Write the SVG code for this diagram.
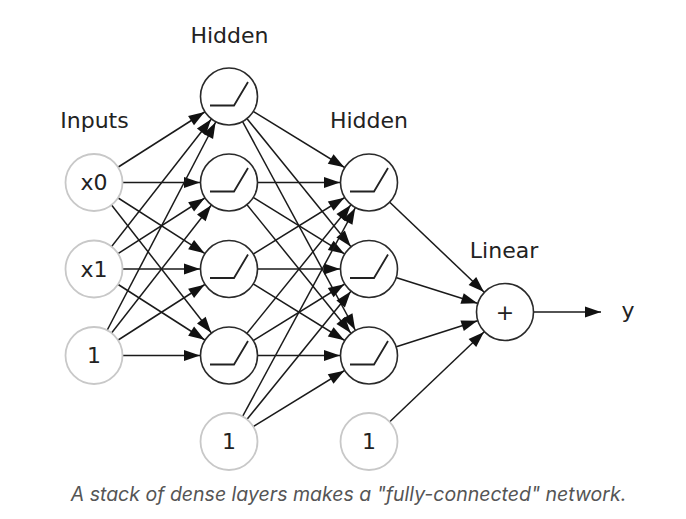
<svg xmlns="http://www.w3.org/2000/svg" width="686" height="519" viewBox="0 0 686 519">
<style>
.lbl{font-family:"DejaVu Sans",sans-serif;font-size:22px;fill:#222;text-anchor:middle}
.in{fill:#fff;stroke:#c8c8c8;stroke-width:1.8}
.hn{fill:#fff;stroke:#2a2a2a;stroke-width:1.6}
.relu{fill:none;stroke:#222;stroke-width:1.8}
.e{stroke:#1a1a1a;stroke-width:1.5;fill:none;marker-end:url(#a)}
.cap{font-family:Inter,"Liberation Sans",sans-serif;font-style:italic;font-size:19.5px;fill:#555;text-anchor:middle}
</style>
<defs>
<marker id="a" markerUnits="userSpaceOnUse" markerWidth="1" markerHeight="1" refX="0" refY="0" orient="auto" overflow="visible">
<path d="M-29,0 L-45,-5.5 L-45,5.5 z" fill="#111"/>
</marker>
<marker id="t" markerUnits="userSpaceOnUse" markerWidth="1" markerHeight="1" refX="0" refY="0" orient="auto" overflow="visible">
<path d="M0,0 L-16,-5.5 L-16,5.5 z" fill="#111"/>
</marker>
<path id="r" d="M-19,9 H5 L19,-14.5"/>
</defs>
<rect width="686" height="519" fill="#fff"/>
<g id="connectors">
<line class="e" x1="94" y1="182.5" x2="229" y2="96.5"/>
<line class="e" x1="94" y1="182.5" x2="229" y2="182.5"/>
<line class="e" x1="94" y1="182.5" x2="229" y2="269"/>
<line class="e" x1="94" y1="182.5" x2="229" y2="355.5"/>
<line class="e" x1="94" y1="269" x2="229" y2="96.5"/>
<line class="e" x1="94" y1="269" x2="229" y2="182.5"/>
<line class="e" x1="94" y1="269" x2="229" y2="269"/>
<line class="e" x1="94" y1="269" x2="229" y2="355.5"/>
<line class="e" x1="94" y1="355.5" x2="229" y2="96.5"/>
<line class="e" x1="94" y1="355.5" x2="229" y2="182.5"/>
<line class="e" x1="94" y1="355.5" x2="229" y2="269"/>
<line class="e" x1="94" y1="355.5" x2="229" y2="355.5"/>
<line class="e" x1="229" y1="96.5" x2="369" y2="182.5"/>
<line class="e" x1="229" y1="96.5" x2="369" y2="269"/>
<line class="e" x1="229" y1="96.5" x2="369" y2="355.5"/>
<line class="e" x1="229" y1="182.5" x2="369" y2="182.5"/>
<line class="e" x1="229" y1="182.5" x2="369" y2="269"/>
<line class="e" x1="229" y1="182.5" x2="369" y2="355.5"/>
<line class="e" x1="229" y1="269" x2="369" y2="182.5"/>
<line class="e" x1="229" y1="269" x2="369" y2="269"/>
<line class="e" x1="229" y1="269" x2="369" y2="355.5"/>
<line class="e" x1="229" y1="355.5" x2="369" y2="182.5"/>
<line class="e" x1="229" y1="355.5" x2="369" y2="269"/>
<line class="e" x1="229" y1="355.5" x2="369" y2="355.5"/>
<line class="e" x1="229" y1="441.5" x2="369" y2="182.5"/>
<line class="e" x1="229" y1="441.5" x2="369" y2="269"/>
<line class="e" x1="229" y1="441.5" x2="369" y2="355.5"/>
<line class="e" x1="369" y1="182.5" x2="505" y2="312"/>
<line class="e" x1="369" y1="269" x2="505" y2="312"/>
<line class="e" x1="369" y1="355.5" x2="505" y2="312"/>
<line class="e" x1="369" y1="441.5" x2="505" y2="312"/>
<line x1="505" y1="312" x2="601" y2="312" stroke="#1a1a1a" stroke-width="1.5" marker-end="url(#t)"/>
</g>
<g id="label-inputs"><text class="lbl" x="94.5" y="128">Inputs</text></g>
<g id="label-hidden1"><text class="lbl" x="229.5" y="43">Hidden</text></g>
<g id="label-hidden2"><text class="lbl" x="369" y="128">Hidden</text></g>
<g id="label-linear"><text class="lbl" x="504" y="258">Linear</text></g>
<g id="in-x0"><circle class="in" cx="94" cy="182.5" r="28.5"/><text class="lbl" x="94" y="190">x0</text></g>
<g id="in-x1"><circle class="in" cx="94" cy="269" r="28.5"/><text class="lbl" x="94" y="276.5">x1</text></g>
<g id="in-1"><circle class="in" cx="94" cy="355.5" r="28.5"/><text class="lbl" x="94" y="363">1</text></g>
<g id="h1-0"><circle class="hn" cx="229" cy="96.5" r="28.5"/><use href="#r" class="relu" x="229" y="96.5"/></g>
<g id="h1-1"><circle class="hn" cx="229" cy="182.5" r="28.5"/><use href="#r" class="relu" x="229" y="182.5"/></g>
<g id="h1-2"><circle class="hn" cx="229" cy="269" r="28.5"/><use href="#r" class="relu" x="229" y="269"/></g>
<g id="h1-3"><circle class="hn" cx="229" cy="355.5" r="28.5"/><use href="#r" class="relu" x="229" y="355.5"/></g>
<g id="b1"><circle class="in" cx="229" cy="441.5" r="28.5"/><text class="lbl" x="229" y="449">1</text></g>
<g id="h2-0"><circle class="hn" cx="369" cy="182.5" r="28.5"/><use href="#r" class="relu" x="369" y="182.5"/></g>
<g id="h2-1"><circle class="hn" cx="369" cy="269" r="28.5"/><use href="#r" class="relu" x="369" y="269"/></g>
<g id="h2-2"><circle class="hn" cx="369" cy="355.5" r="28.5"/><use href="#r" class="relu" x="369" y="355.5"/></g>
<g id="b2"><circle class="in" cx="369" cy="441.5" r="28.5"/><text class="lbl" x="369" y="449">1</text></g>
<g id="linear"><circle class="hn" cx="505" cy="312" r="28.5"/><text class="lbl" x="505" y="319.5">+</text></g>
<g id="out-y"><text class="lbl" x="628" y="318">y</text></g>
<g id="caption"><text class="cap" x="348.5" y="501">A stack of dense layers makes a "fully-connected" network.</text></g>
</svg>
